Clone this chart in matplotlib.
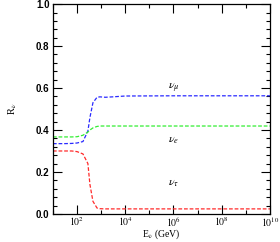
import matplotlib
matplotlib.use("Agg")
import matplotlib.pyplot as plt
import numpy as np
from matplotlib.ticker import FixedLocator, MultipleLocator, NullFormatter

plt.rcParams["mathtext.fontset"] = "stix"

# energies (GeV) and flavour ratios
energy = [10, 30, 60, 100, 176, 282, 343, 457, 676, 890, 1500, 3000, 1e4, 1e6, 1e10]
r_mu = [0.335, 0.335, 0.336, 0.338, 0.345, 0.395, 0.46, 0.53, 0.556, 0.558, 0.556, 0.558, 0.562, 0.563, 0.563]
r_e = [0.367, 0.367, 0.367, 0.368, 0.375, 0.39, 0.40, 0.41, 0.417, 0.419, 0.419, 0.419, 0.419, 0.419, 0.419]
r_tau = [0.30, 0.30, 0.30, 0.297, 0.286, 0.24, 0.14, 0.06, 0.028, 0.025, 0.024, 0.024, 0.024, 0.024, 0.024]

labels = [(r"$\nu_\mu$", 0.60), (r"$\nu_e$", 0.357), (r"$\nu_\tau$", 0.148)]
xticks = [1e2, 1e4, 1e6, 1e8, 1e10]
xticklabels = [r"$10^{2}$", r"$10^{4}$", r"$10^{6}$", r"$10^{8}$", r"$10^{10}$"]
yticks = [0.0, 0.2, 0.4, 0.6, 0.8, 1.0]
yticklabels = ["0.0", "0.2", "0.4", "0.6", "0.8", "1.0"]

fig = plt.figure(figsize=(2.8, 2.42), dpi=100)
ax = fig.add_axes([0.189, 0.116, 0.775, 0.867])

dash = (0, (3, 1.5))
ax.plot(energy, r_mu, color="#2a2aff", ls=dash, lw=0.9)
ax.plot(energy, r_e, color="#33ee33", ls=dash, lw=0.9)
ax.plot(energy, r_tau, color="#ff2a2a", ls=dash, lw=0.9)

for txt, y in labels:
    ax.text(1e6, y, txt, ha="center", va="center", fontsize=8.5, color="black")

ax.set_xscale("log")
ax.set_xlim(10, 1e10)
ax.set_ylim(0, 1)

ax.xaxis.set_major_locator(FixedLocator(xticks))
ax.xaxis.set_minor_locator(FixedLocator([1e1, 1e3, 1e5, 1e7, 1e9]))
ax.xaxis.set_minor_formatter(NullFormatter())
ax.set_xticklabels(xticklabels, fontsize=7)
ax.set_yticks(yticks)
ax.yaxis.set_minor_locator(MultipleLocator(0.04))
ax.set_yticklabels(yticklabels, family="Liberation Sans", fontweight="bold", fontsize=7)

ax.tick_params(which="both", direction="in", top=True, right=True, width=0.8)
ax.tick_params(axis="x", pad=1)
ax.tick_params(axis="y", pad=2.5)
ax.tick_params(which="major", length=6.5)
ax.tick_params(which="minor", length=3)
for s in ax.spines.values():
    s.set_linewidth(0.9)

ax.set_xlabel(r"E$_\nu$ (GeV)", family="Liberation Serif", fontsize=7, va="center")
ax.xaxis.set_label_coords(0.5, -0.097)
ax.set_ylabel(r"R$_\nu$", family="Liberation Serif", fontsize=7.5, labelpad=12)

fig.savefig("out.png", dpi=100)
